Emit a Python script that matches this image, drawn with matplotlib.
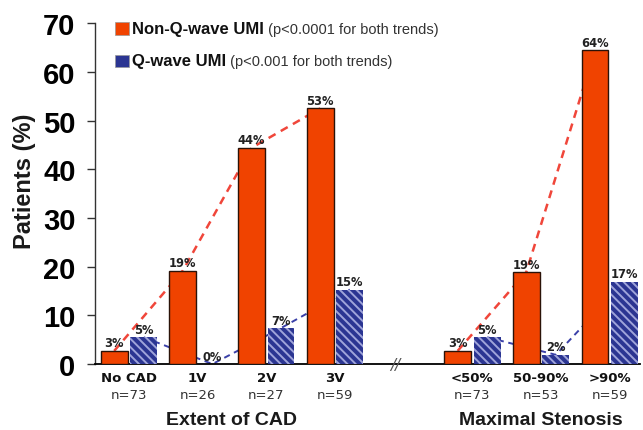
import matplotlib
matplotlib.use("Agg")
import matplotlib.pyplot as plt
from matplotlib.patches import Rectangle

# ---- data ----
categories = ["No CAD", "1V", "2V", "3V", "<50%", "50-90%", ">90%"]
n_labels = ["n=73", "n=26", "n=27", "n=59", "n=73", "n=53", "n=59"]
positions = [0, 1, 2, 3, 5, 6, 7]
nonq_values = [2.7, 19.2, 44.4, 52.5, 2.7, 18.9, 64.4]
nonq_labels = ["3%", "19%", "44%", "53%", "3%", "19%", "64%"]
qwave_values = [5.5, 0.0, 7.4, 15.3, 5.5, 1.9, 16.9]
qwave_labels = ["5%", "0%", "7%", "15%", "5%", "2%", "17%"]
groups = ["Extent of CAD", "Maximal Stenosis"]
group_members = [[0, 1, 2, 3], [4, 5, 6]]
yticks = [0, 10, 20, 30, 40, 50, 60, 70]

ORANGE = "#F04300"
NAVY = "#2B3592"
HATCH = "#9FA4DA"

plt.rcParams["hatch.linewidth"] = 1.4

fig = plt.figure(figsize=(6.43, 4.31), dpi=100)
ax = fig.add_axes([0.1477, 0.153, 0.8476, 0.791])

w = 0.39
off = 0.215
xo = [p - off for p in positions]
xb = [p + off for p in positions]

ax.bar(xo, nonq_values, width=w, color=ORANGE, edgecolor="#2a1208", linewidth=1.0, zorder=3)
ax.bar(xb, qwave_values, width=w, color=NAVY, edgecolor=HATCH, linewidth=0, hatch="\\\\\\\\", zorder=3)

# trend lines per group
for members in group_members:
    ax.plot([xo[i] for i in members], [nonq_values[i] for i in members],
            ls=(0, (3.2, 2.4)), color="#F0463A", lw=1.8, zorder=2)
    ax.plot([xb[i] for i in members], [qwave_values[i] for i in members],
            ls=(0, (3.2, 2.4)), color="#3A40A8", lw=1.4, zorder=2)

# value labels
for x, v, lab in zip(xo, nonq_values, nonq_labels):
    ax.text(x, v + 0.3, lab, ha="center", va="bottom", fontsize=8.3,
            fontweight="bold", family="DejaVu Sans", color="#222222", zorder=5)
for x, v, lab in zip(xb, qwave_values, qwave_labels):
    ax.text(x, v + 0.3, lab, ha="center", va="bottom", fontsize=8.3,
            fontweight="bold", family="DejaVu Sans", color="#222222", zorder=5)

ax.set_xlim(-0.495, 7.44)
ax.set_ylim(0, 70)
ax.set_yticks(yticks)
ax.set_yticklabels([str(t) for t in yticks], fontsize=21, fontweight="bold",
                   family=["Liberation Sans Narrow", "Liberation Sans"])
ax.tick_params(axis="y", length=6, width=1, pad=8, color="#333333")
ax.set_xticks([])
for s in ["top", "right"]:
    ax.spines[s].set_visible(False)
ax.spines["left"].set_linewidth(1.0)
ax.spines["left"].set_color("#333333")
ax.spines["bottom"].set_linewidth(1.3)

tr = ax.get_xaxis_transform()
for p, c, n in zip(positions, categories, n_labels):
    ax.text(p, -0.038, c, transform=tr, ha="center", va="center", fontsize=9.5,
            fontweight="bold", family="DejaVu Sans", color="#111111")
    ax.text(p, -0.088, n, transform=tr, ha="center", va="center", fontsize=9.5,
            family="DejaVu Sans", color="#333333")

for g, members in zip(groups, group_members):
    cx = (positions[members[0]] + positions[members[-1]]) / 2
    ax.text(cx, -0.162, g, transform=tr, ha="center", va="center", fontsize=14,
            fontweight="bold", family="Liberation Sans", color="#1a1a1a")

# axis break mark
ax.text(3.87, 0, "//", transform=ax.transData, ha="center", va="center",
        fontsize=11, color="#555555", family="DejaVu Sans", style="italic",
        clip_on=False, zorder=6)

# y label
ax.text(-0.130, 0.54, "Patients (%)", transform=ax.transAxes, rotation=90,
        ha="center", va="center", fontsize=17, fontweight="bold",
        family="Liberation Sans", color="#1a1a1a")

# legend (manual)
leg_items = [("Non-Q-wave UMI", " (p<0.0001 for both trends)", ORANGE, 0.985),
             ("Q-wave UMI", " (p<0.001 for both trends)", NAVY, 0.889)]
for bold, rest, col, yc in leg_items:
    ax.add_patch(Rectangle((0.0367, yc - 0.019), 0.0257, 0.038, transform=ax.transAxes,
                           facecolor=col, edgecolor="#999999", linewidth=0.5,
                           clip_on=False, zorder=6))
    t1 = ax.text(0.068, yc, bold, transform=ax.transAxes, ha="left", va="center",
                 fontsize=12, fontweight="bold", family="Liberation Sans",
                 color="#111111")
    ax.annotate(rest, xy=(1, 0), xycoords=t1, ha="left", va="bottom",
                fontsize=10.5, family="Liberation Sans", color="#333333")

fig.savefig("out.png", dpi=100)
